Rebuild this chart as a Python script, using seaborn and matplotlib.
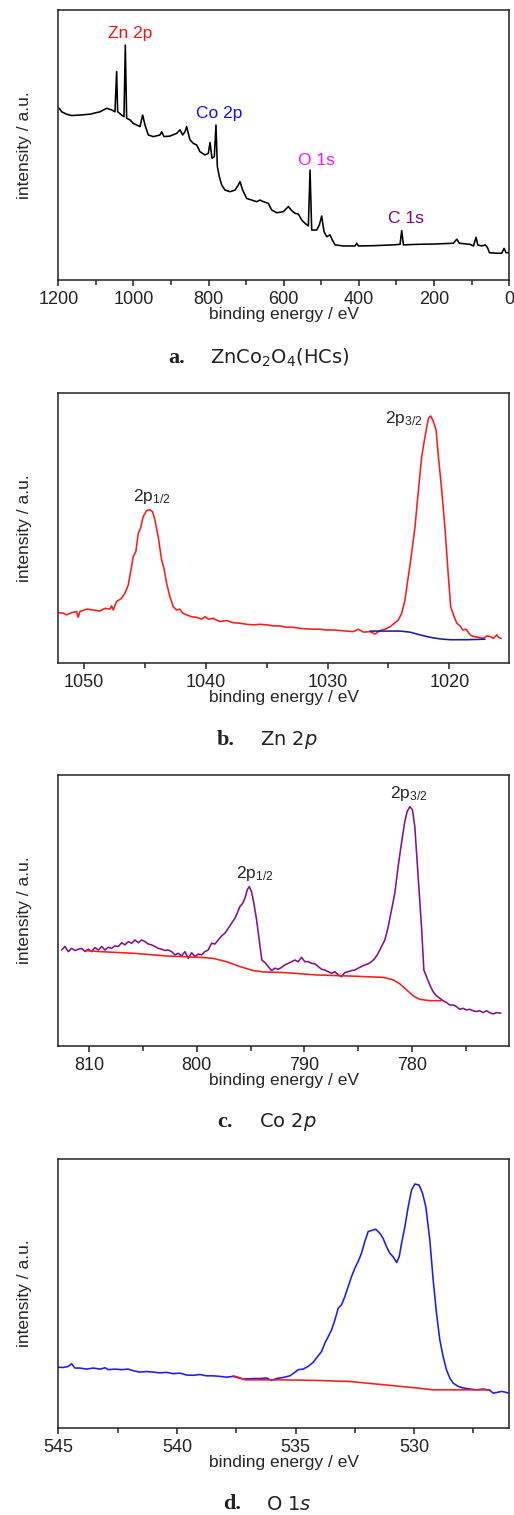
import matplotlib
matplotlib.use('Agg')  # no display
import matplotlib.pyplot as plt
from matplotlib.ticker import MultipleLocator
import pandas as pd
import seaborn as sns

# --- a. survey spectrum (binding energy eV, intensity a.u.) ---
survey_be = [1197.3, 1191.1, 1177.8, 1164.5, 1142.3, 1115.7, 1089.0, 1071.3, 1058.0, 1049.1,
             1044.7, 1042.0, 1031.4, 1025.1, 1021.6, 1018.0, 1009.2, 1000.3, 991.4, 982.5,
             975.4, 969.2, 960.3, 947.0, 929.3, 924.8, 918.6, 902.7, 884.9, 876.0,
             868.9, 862.7, 858.3, 853.8, 849.4, 840.5, 831.6, 822.8, 809.5, 800.6,
             796.1, 790.8, 784.6, 780.2, 776.6, 771.3, 765.1, 756.2, 742.9, 729.6,
             720.7, 716.3, 709.2, 698.5, 685.2, 671.9, 663.0, 654.1, 640.8, 631.9,
             618.6, 600.9, 587.6, 578.7, 569.8, 560.9, 552.0, 543.2, 534.3, 529.8,
             525.4, 512.1, 505.0, 498.8, 492.6, 485.5, 476.6, 470.4, 463.3, 441.1,
             410.0, 405.6, 401.2, 361.2, 308.0, 290.2, 285.8, 281.3, 245.8, 201.4,
             148.2, 139.3, 132.2, 103.8, 94.9, 87.8, 83.4, 72.7, 63.9, 57.7,
             52.3, 32.8, 19.5, 13.3, 8.0, 1.8]
survey_int = [63.6, 62.3, 61.4, 60.9, 61.1, 61.4, 62.3, 63.6, 63.0, 62.3,
              77.2, 62.3, 61.1, 60.5, 87.0, 59.9, 59.3, 58.0, 57.4, 56.8,
              61.1, 57.4, 53.7, 53.1, 53.7, 54.9, 53.1, 53.3, 54.3, 55.6,
              53.7, 54.9, 56.8, 54.3, 51.9, 50.6, 50.0, 47.5, 46.3, 46.9,
              50.9, 45.1, 45.7, 57.4, 42.0, 38.3, 35.2, 33.3, 32.7, 33.3,
              35.2, 36.4, 33.3, 30.2, 29.6, 29.0, 29.6, 29.0, 28.4, 25.9,
              24.9, 25.3, 27.2, 25.7, 24.7, 24.4, 22.2, 21.0, 20.0, 40.7,
              18.5, 18.5, 20.4, 23.7, 17.9, 16.0, 16.7, 14.8, 13.0, 12.6,
              12.6, 13.6, 12.6, 12.7, 13.0, 13.2, 18.3, 13.0, 13.2, 13.3,
              13.6, 15.1, 13.6, 13.2, 12.6, 15.8, 13.0, 12.6, 13.0, 12.1,
              10.1, 9.9, 9.9, 11.7, 10.1, 10.1]
survey_labels = ["Zn 2p", "Co 2p", "O 1s", "C 1s"]
survey_label_be = [1009, 771, 512, 274]
survey_label_int = [91.4, 61.7, 44.4, 22.8]
survey_label_colors = ["#ff1010", "#1010ff", "#ff10ff", "#800080"]

# --- b. Zn 2p ---
zn_be = [1052.11, 1051.70, 1051.42, 1051.01, 1050.60, 1050.47, 1050.33, 1049.78, 1049.23, 1048.69,
         1048.28, 1047.86, 1047.73, 1047.59, 1047.32, 1046.91, 1046.63, 1046.36, 1046.09, 1045.95,
         1045.73, 1045.54, 1045.35, 1045.13, 1044.85, 1044.58, 1044.36, 1044.17, 1043.90, 1043.62,
         1043.43, 1043.21, 1042.94, 1042.66, 1042.39, 1042.12, 1041.90, 1041.57, 1041.16, 1040.75,
         1040.34, 1040.06, 1039.79, 1039.38, 1038.83, 1038.28, 1037.74, 1037.19, 1036.64, 1036.09,
         1035.55, 1035.00, 1034.45, 1033.90, 1033.36, 1032.81, 1032.26, 1031.71, 1031.17, 1030.62,
         1030.07, 1029.52, 1028.98, 1028.43, 1027.88, 1027.47, 1027.06, 1026.51, 1026.10, 1025.69,
         1025.28, 1024.87, 1024.46, 1024.19, 1023.91, 1023.64, 1023.45, 1023.17, 1022.82, 1022.54,
         1022.27, 1022.00, 1021.72, 1021.53, 1021.31, 1021.09, 1020.90, 1020.63, 1020.35, 1020.08,
         1019.89, 1019.61, 1019.39, 1019.12, 1018.90, 1018.63, 1018.30, 1018.03, 1017.62, 1017.21,
         1016.93, 1016.66, 1016.38, 1016.11, 1015.97, 1015.75]
zn_int = [18.7, 18.5, 17.9, 18.7, 19.1, 17.0, 19.1, 20.0, 19.7, 19.3,
          20.3, 20.0, 21.2, 19.7, 22.8, 24.0, 25.9, 28.9, 35.7, 39.4,
          41.3, 48.0, 49.9, 54.2, 56.4, 56.7, 56.0, 53.0, 46.8, 38.2,
          35.1, 29.6, 24.6, 20.9, 19.7, 20.0, 18.5, 17.9, 17.2, 17.0,
          16.3, 17.2, 16.3, 16.6, 15.4, 15.8, 15.0, 14.8, 14.4, 14.2,
          14.4, 14.2, 13.8, 13.8, 13.3, 13.3, 12.9, 12.7, 12.6, 12.6,
          12.3, 12.3, 12.1, 11.9, 11.7, 12.6, 11.5, 11.7, 10.8, 12.1,
          12.6, 13.5, 15.0, 16.0, 18.5, 23.4, 29.6, 38.2, 50.5, 64.0,
          76.4, 83.7, 90.5, 91.4, 89.3, 86.2, 76.4, 64.0, 49.3, 32.0,
          20.9, 17.2, 14.8, 13.8, 12.3, 12.6, 10.5, 9.9, 9.6, 9.2,
          10.1, 9.9, 9.2, 10.5, 9.6, 9.2]
zn_bg_be = [1026.51, 1025.42, 1024.05, 1023.23, 1022.41, 1021.58, 1020.76, 1019.94, 1018.57, 1017.07]
zn_bg_int = [11.9, 11.9, 11.9, 11.5, 10.5, 9.6, 9.0, 8.7, 8.7, 8.9]
zn_label_be = [1044.4, 1023.7]
zn_label_int = [61.6, 90.5]

# --- c. Co 2p ---
co_be = [812.54, 812.23, 811.92, 811.61, 811.30, 810.99, 810.68, 810.37, 810.06, 809.75,
         809.44, 809.13, 808.82, 808.52, 808.21, 807.90, 807.59, 807.28, 806.97, 806.66,
         806.35, 806.04, 805.73, 805.42, 805.11, 804.80, 804.49, 804.19, 803.88, 803.57,
         803.26, 802.95, 802.64, 802.33, 802.02, 801.71, 801.40, 801.09, 800.78, 800.47,
         800.16, 799.85, 799.55, 799.24, 798.93, 798.62, 798.31, 798.00, 797.69, 797.38,
         797.07, 796.76, 796.45, 796.24, 795.99, 795.74, 795.52, 795.31, 795.12, 794.91,
         794.69, 794.44, 794.19, 793.95, 793.67, 793.36, 793.05, 792.74, 792.43, 792.12,
         791.81, 791.50, 791.19, 790.88, 790.58, 790.27, 789.96, 789.65, 789.34, 789.03,
         788.72, 788.41, 788.10, 787.79, 787.48, 787.17, 786.86, 786.55, 786.24, 785.94,
         785.63, 785.32, 785.01, 784.70, 784.39, 784.08, 783.77, 783.46, 783.15, 782.84,
         782.53, 782.22, 781.91, 781.61, 781.30, 780.99, 780.68, 780.46, 780.21, 779.97,
         779.75, 779.44, 779.13, 778.91, 778.67, 778.36, 778.05, 777.74, 777.43, 777.12,
         776.81, 776.50, 776.19, 775.88, 775.57, 775.26, 774.96, 774.65, 774.34, 774.03,
         773.72, 773.41, 773.10, 772.79, 772.48, 772.17, 771.77]
co_int = [35.4, 36.7, 34.8, 36.0, 35.2, 35.7, 36.0, 34.8, 35.7, 34.8,
          36.3, 35.4, 36.7, 35.4, 36.4, 36.0, 36.9, 36.7, 38.1, 37.3,
          38.5, 37.9, 39.1, 38.1, 39.1, 38.5, 37.6, 37.3, 36.7, 36.0,
          35.7, 35.2, 35.4, 34.8, 33.6, 34.2, 33.2, 34.8, 32.3, 34.4,
          33.0, 33.9, 33.6, 34.8, 35.4, 37.9, 37.6, 39.1, 40.6, 41.6,
          43.4, 45.3, 47.1, 49.0, 51.4, 52.6, 54.5, 57.6, 58.8, 56.9,
          52.6, 46.5, 39.1, 31.7, 30.8, 29.3, 27.8, 28.7, 28.3, 29.0,
          29.9, 30.5, 31.1, 31.7, 31.1, 32.7, 31.1, 31.1, 30.5, 30.3,
          29.3, 28.3, 28.0, 27.4, 26.8, 27.4, 26.2, 25.6, 27.1, 27.4,
          27.8, 28.0, 28.7, 29.3, 29.9, 30.3, 31.1, 32.3, 34.2, 36.7,
          39.1, 44.0, 50.2, 56.3, 66.2, 74.8, 82.8, 86.5, 88.3, 87.1,
          80.9, 62.5, 44.0, 28.0, 25.6, 22.5, 20.0, 18.5, 17.6, 16.7,
          16.0, 15.1, 15.1, 14.5, 13.5, 13.9, 13.3, 13.5, 13.0, 12.7,
          13.0, 12.3, 13.0, 12.3, 11.8, 12.3, 12.1]
co_bg_be = [810.37, 808.98, 805.89, 802.79, 799.70, 798.46, 797.23, 795.99, 794.75, 793.82,
            791.97, 788.87, 785.78, 782.69, 781.76, 781.14, 780.52, 779.90, 779.28, 778.36, 777.27]
co_bg_int = [35.2, 34.8, 34.2, 33.2, 32.7, 32.3, 31.1, 29.3, 27.8, 27.3,
             27.1, 26.2, 25.8, 25.3, 24.4, 22.9, 20.7, 18.5, 17.2, 16.7, 16.7]
co_label_be = [794.6, 780.3]
co_label_int = [63.7, 93.2]

# --- d. O 1s ---
o_be = [545.00, 544.79, 544.58, 544.44, 544.30, 544.09, 543.81, 543.53, 543.24, 543.03,
        542.89, 542.61, 542.33, 542.05, 541.84, 541.56, 541.28, 541.00, 540.72, 540.44,
        540.15, 539.87, 539.59, 539.31, 539.03, 538.75, 538.47, 538.19, 537.91, 537.63,
        537.21, 536.78, 536.50, 536.22, 536.01, 535.80, 535.52, 535.24, 535.03, 534.89,
        534.68, 534.47, 534.26, 534.04, 533.90, 533.76, 533.62, 533.48, 533.34, 533.20,
        533.06, 532.92, 532.78, 532.64, 532.50, 532.36, 532.22, 532.08, 531.94, 531.80,
        531.62, 531.45, 531.31, 531.17, 531.03, 530.89, 530.74, 530.63, 530.53, 530.39,
        530.25, 530.11, 529.97, 529.79, 529.65, 529.51, 529.34, 529.20, 529.06, 528.92,
        528.78, 528.64, 528.50, 528.36, 528.15, 527.94, 527.65, 527.37, 527.09, 526.81,
        526.67, 526.53, 526.32, 526.18, 526.04]
o_int = [22.6, 22.5, 22.9, 23.9, 22.3, 22.3, 21.9, 22.3, 21.9, 22.4,
         21.7, 21.9, 21.7, 21.9, 21.3, 20.8, 21.0, 20.8, 20.5, 20.7,
         20.2, 20.4, 19.7, 19.6, 19.9, 19.4, 19.4, 19.2, 18.9, 19.2,
         18.2, 18.4, 18.4, 18.6, 17.7, 18.4, 18.8, 19.4, 20.7, 21.7,
         21.9, 22.9, 24.4, 26.9, 28.5, 31.6, 34.0, 36.5, 40.2, 44.6,
         45.8, 48.9, 52.6, 56.3, 59.4, 61.9, 65.0, 69.3, 73.0, 73.4,
         73.9, 72.4, 70.5, 67.5, 65.0, 63.7, 61.5, 63.7, 68.7, 74.9,
         82.3, 88.5, 90.7, 90.3, 87.3, 82.3, 69.9, 55.1, 42.7, 32.8,
         26.6, 21.7, 18.6, 16.7, 15.5, 14.9, 14.5, 14.2, 14.5, 14.0,
         13.0, 13.2, 13.6, 13.4, 13.0]
o_bg_be = [537.63, 537.42, 537.13, 536.50, 535.52, 534.12, 532.71, 532.01, 531.31, 530.60,
           529.90, 529.20, 528.50, 527.79, 526.81]
o_bg_int = [19.4, 18.9, 17.9, 17.9, 17.9, 17.7, 17.3, 16.7, 16.1, 15.5,
            14.9, 14.2, 14.2, 14.2, 14.2]

captions = [r"ZnCo$_2$O$_4$(HCs)", r"Zn 2$\mathit{p}$", r"Co 2$\mathit{p}$", r"O 1$\mathit{s}$"]
caption_letters = ["a.", "b.", "c.", "d."]

# Step 1: style
sns.set_style("ticks")
plt.rcParams['font.family'] = ['Liberation Sans', 'DejaVu Sans']
plt.rcParams['mathtext.fontset'] = 'dejavusans'
plt.rcParams['mathtext.default'] = 'regular'
plt.rcParams['axes.edgecolor'] = '#222222'
plt.rcParams['xtick.color'] = '#222222'

fig = plt.figure(figsize=(5.14, 15.15), dpi=100)
left, width = 0.1134, 0.877
ax_a = fig.add_axes([left, 0.8152, width, 0.1782])
ax_b = fig.add_axes([left, 0.5622, width, 0.1786])
ax_c = fig.add_axes([left, 0.3096, width, 0.1789])
ax_d = fig.add_axes([left, 0.0574, width, 0.1776])


def style_panel(ax, xlim, major, minor):
    ax.set_xlim(*xlim)
    ax.set_ylim(0, 100)
    ax.set_yticks([])
    ax.xaxis.set_major_locator(MultipleLocator(major))
    ax.xaxis.set_minor_locator(MultipleLocator(minor))
    ax.tick_params(axis='x', which='major', direction='out', length=4, width=1.1,
                   labelsize=13, pad=4)
    ax.tick_params(axis='x', which='minor', direction='out', length=3.5, width=1.1)
    ax.set_xlabel("binding energy / eV", fontsize=12.5, labelpad=-1)
    ax.set_ylabel("intensity / a.u.", fontsize=12.5, labelpad=19)
    for sp in ax.spines.values():
        sp.set_linewidth(1.1)


def line(ax, x, y, color):
    df = pd.DataFrame({"be": x, "intensity": y})
    sns.lineplot(data=df, x="be", y="intensity", ax=ax, color=color, lw=1.15,
                 estimator=None, errorbar=None)


# Step 2: survey
line(ax_a, survey_be, survey_int, "black")
for txt, xb, yi, c in zip(survey_labels, survey_label_be, survey_label_int, survey_label_colors):
    ax_a.text(xb, yi, txt, color=c, fontsize=12.5, ha='center', va='center')
style_panel(ax_a, (1200, 0), 200, 100)

# Step 3: Zn 2p
line(ax_b, zn_be, zn_int, "#ff1a1a")
line(ax_b, zn_bg_be, zn_bg_int, "#1a1aa8")
for lab, xb, yi in zip([r"2p$_{1/2}$", r"2p$_{3/2}$"], zn_label_be, zn_label_int):
    ax_b.text(xb, yi, lab, fontsize=12.5, ha='center', va='center')
style_panel(ax_b, (1052.1, 1015.1), 10, 5)

# Step 4: Co 2p
line(ax_c, co_be, co_int, "#85108a")
line(ax_c, co_bg_be, co_bg_int, "#ff1a1a")
for lab, xb, yi in zip([r"2p$_{1/2}$", r"2p$_{3/2}$"], co_label_be, co_label_int):
    ax_c.text(xb, yi, lab, fontsize=12.5, ha='center', va='center')
style_panel(ax_c, (812.85, 771.0), 10, 5)

# Step 5: O 1s
line(ax_d, o_be, o_int, "#1a1aff")
line(ax_d, o_bg_be, o_bg_int, "#ff1a1a")
style_panel(ax_d, (545, 526.0), 5, 2.5)

# Step 6: captions under each panel
cap_y = [1 - 358 / 1515, 1 - 740 / 1515, 1 - 1122 / 1515, 1 - 1504 / 1515]
letter_x = [168 / 514, 217 / 514, 217 / 514, 223 / 514]
text_x = [210 / 514, 260 / 514, 259 / 514, 266 / 514]
for lt, cap, y, lx, tx in zip(caption_letters, captions, cap_y, letter_x, text_x):
    fig.text(lx, y, lt, fontsize=16, fontweight='bold', family='Liberation Serif',
             ha='left', va='center', color='#222222')
    fig.text(tx, y, cap, fontsize=14, family='DejaVu Sans', ha='left', va='center',
             color='#222222')

fig.savefig("out.png", dpi=100)
plt.close(fig)
